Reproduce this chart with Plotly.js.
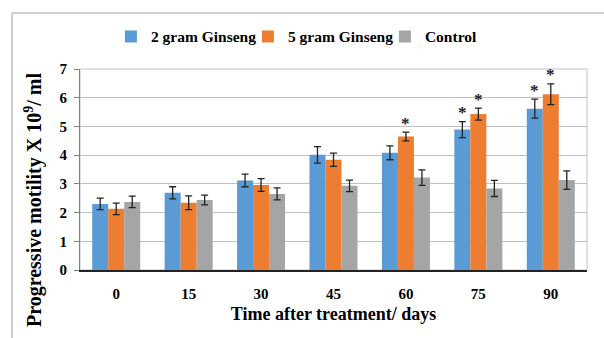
<!DOCTYPE html>
<html>
<head>
<meta charset="utf-8">
<script src="https://cdn.plot.ly/plotly-3.0.1.min.js"></script>
<style>
html,body{margin:0;padding:0;background:#fff;}
#chart{width:604px;height:338px;}
</style>
</head>
<body>
<div id="chart"></div>
<script>
var days = ['0','15','30','45','60','75','90'];
var seriesNames = ['2 gram Ginseng','5 gram Ginseng','Control'];
var ginseng2 = [2.30, 2.69, 3.12, 4.01, 4.08, 4.89, 5.62];
var ginseng2Err = [0.20, 0.21, 0.22, 0.29, 0.24, 0.28, 0.33];
var ginseng5 = [2.13, 2.34, 2.96, 3.84, 4.65, 5.43, 6.12];
var ginseng5Err = [0.20, 0.24, 0.22, 0.23, 0.15, 0.21, 0.36];
var control = [2.37, 2.44, 2.65, 2.93, 3.22, 2.84, 3.13];
var controlErr = [0.20, 0.17, 0.21, 0.20, 0.27, 0.28, 0.32];
var sig2 = [false, false, false, false, false, true, true];
var sig5 = [false, false, false, false, true, true, true];
var colors = ['#5B9BD5', '#ED7D31', '#A5A5A5'];

var FONT = 'Liberation Serif, Times New Roman, serif';
var values = [ginseng2, ginseng5, control];
var errs = [ginseng2Err, ginseng5Err, controlErr];

var traces = values.map(function (v, i) {
  return {
    type: 'bar',
    name: seriesNames[i],
    x: days,
    y: v,
    marker: {color: colors[i]},
    error_y: {type: 'data', array: errs[i], visible: true, color: '#222', thickness: 1.3, width: 3.5}
  };
});

var annotations = [];
function addStars(flags, vals, er, shift) {
  flags.forEach(function (f, k) {
    if (!f) return;
    annotations.push({
      x: k, y: vals[k] + er[k], xref: 'x', yref: 'y',
      text: '*', showarrow: false, xshift: shift, yshift: 9,
      yanchor: 'middle',
      font: {family: FONT, size: 17, color: '#222', weight: 'bold'}
    });
  });
}
addStars(sig2, ginseng2, ginseng2Err, -16);
addStars(sig5, ginseng5, ginseng5Err, 0);

annotations.push({
  text: 'Progressive motility X 10<sup>9</sup>/ ml',
  xref: 'paper', yref: 'paper', x: -0.0927, y: 0.348,
  textangle: -90, showarrow: false, xanchor: 'center', yanchor: 'middle',
  font: {family: FONT, size: 20, color: '#000', weight: 'bold'}
});

var layout = {
  width: 604, height: 338,
  margin: {l: 80, r: 17, t: 69, b: 68},
  paper_bgcolor: '#fff', plot_bgcolor: '#fff',
  barmode: 'group', bargap: 0.337, bargroupgap: 0,
  showlegend: true,
  legend: {
    orientation: 'h', x: 0.061, xanchor: 'left', y: 1.16, yanchor: 'middle',
    font: {family: FONT, size: 15.5, color: '#000', weight: 'bold'},
    entrywidth: 92, itemwidth: 30,
    itemclick: false, traceorder: 'normal'
  },
  xaxis: {
    type: 'category', range: [-0.5, 6.5],
    showline: true, linecolor: '#222', linewidth: 1.5,
    ticks: '', showgrid: false, ticklabelstandoff: 9,
    tickfont: {family: FONT, size: 15, color: '#000', weight: 'bold'},
    title: {text: 'Time after treatment/ days', font: {family: FONT, size: 18, color: '#000', weight: 'bold'}, standoff: 7}
  },
  yaxis: {
    range: [0, 7], dtick: 1,
    showline: true, linecolor: '#7f7f7f', linewidth: 1,
    ticks: 'outside', ticklen: 5, tickcolor: '#7f7f7f', ticklabelstandoff: 4,
    gridcolor: '#bfbfbf', gridwidth: 1, zeroline: false,
    tickfont: {family: FONT, size: 15, color: '#000', weight: 'bold'}
  },
  annotations: annotations,
  shapes: [
    {type: 'rect', xref: 'paper', yref: 'paper', x0: 0, x1: 1, y0: 0, y1: 1,
     line: {color: '#b4c6d4', width: 1}, layer: 'below'},
    {type: 'line', xref: 'paper', yref: 'paper', x0: -0.134, x1: 1.04, y0: 1.2786, y1: 1.2786,
     line: {color: '#c0c0c0', width: 1.5}},
    {type: 'line', xref: 'paper', yref: 'paper', x0: -0.134, x1: -0.134, y0: 1.2786, y1: -0.4,
     line: {color: '#c0c0c0', width: 1.5}}
  ]
};

Plotly.newPlot('chart', traces, layout, {displayModeBar: false, staticPlot: true});
</script>
</body>
</html>
